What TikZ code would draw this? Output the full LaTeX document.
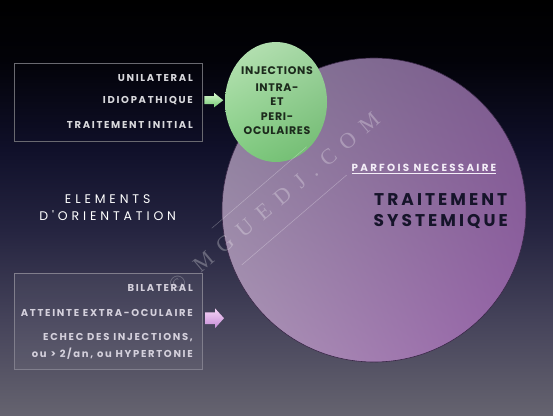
\documentclass[tikz,border=0pt]{standalone}
\usepackage{fontspec}
\usetikzlibrary{shapes.geometric,shadings}
\newfontfamily\boxfont{Poppins}[LetterSpace=17]
\newfontfamily\parffont{Poppins}[LetterSpace=22]
\newfontfamily\orientfont{Poppins}[LetterSpace=31]
\newfontfamily\sysfont{Poppins}[LetterSpace=18]
\newfontfamily\injfont{Poppins}[LetterSpace=6]
\newfontfamily\wmfont{Liberation Serif}[LetterSpace=46]
\definecolor{bgA}{HTML}{65636F}
\definecolor{bgB}{HTML}{45435A}
\definecolor{bgC}{HTML}{252440}
\definecolor{bgD}{HTML}{10102A}
\definecolor{bgE}{HTML}{020208}
\definecolor{bgF}{HTML}{000000}
\pgfdeclareverticalshading{bgshade}{100bp}{color(0bp)=(bgA); color(25bp)=(bgA); color(36.45bp)=(bgB); color(47.29bp)=(bgC); color(56.93bp)=(bgD); color(67.77bp)=(bgE); color(75bp)=(bgF); color(100bp)=(bgF)}
\definecolor{boxtext}{HTML}{D8D8DC}
\definecolor{boxtextB}{HTML}{D4D0DC}
\definecolor{injtext}{HTML}{1C2A1C}
\definecolor{systext}{HTML}{16142A}
\definecolor{parftext}{HTML}{F4EEF8}
\definecolor{sysUL}{RGB}{134,122,150}
\definecolor{sysUR}{RGB}{122,88,140}
\definecolor{sysLL}{RGB}{174,152,184}
\definecolor{sysLR}{RGB}{150,98,168}
\definecolor{sysedge}{HTML}{3A2848}
\definecolor{injUL}{RGB}{188,228,184}
\definecolor{injUR}{RGB}{160,212,160}
\definecolor{injLL}{RGB}{128,204,128}
\definecolor{injLR}{RGB}{110,184,110}
\definecolor{gaT}{RGB}{214,248,206}
\definecolor{gaB}{RGB}{116,200,116}
\definecolor{paT}{RGB}{246,212,246}
\definecolor{paB}{RGB}{196,140,214}
\definecolor{frameA}{RGB}{105,105,112}
\definecolor{frameB}{RGB}{128,126,140}
\tikzset{
  boxline/.style={font=\boxfont\bfseries\fontsize{10}{12}\selectfont, anchor=east, inner sep=0pt},
  injline/.style={font=\injfont\bfseries\fontsize{11}{12}\selectfont, text=injtext, inner sep=0pt},
  frame/.style={draw=#1, line width=0.6pt},
  wmline/.style={white, opacity=0.3, line width=0.5pt},
}
\begin{document}
\begin{tikzpicture}[x=1pt,y=-1pt]
\useasboundingbox (0,0) rectangle (553,415);
\fill[shading=bgshade] (0,0) rectangle (553,415);
% big circle
\node[circle, minimum size=304pt, inner sep=0pt, draw=sysedge, line width=0.6pt,
  upper left=sysUL, upper right=sysUR, lower left=sysLL, lower right=sysLR]
  (sys) at (374,210) {};
% green ellipse
\node[ellipse, minimum width=102pt, minimum height=120pt, inner sep=0pt,
  upper left=injUL, upper right=injUR, lower left=injLL, lower right=injLR]
  (inj) at (276,102) {};
\node[injline] (i1) at (277,71) {INJECTIONS};
\node[injline] (i2) at (277,87.5) {INTRA-};
\node[injline] (i3) at (277,102) {ET};
\node[injline] (i4) at (277,116.5) {PERI-};
\node[injline] (i5) at (277,131) {OCULAIRES};
% watermark
\coordinate (w1a) at (211.7,228.3);
\coordinate (w1b) at (306.7,146.7);
\coordinate (w2a) at (241.7,265);
\coordinate (w2b) at (346.7,175);
\draw[wmline] (w1a) -- (w1b);
\draw[wmline] (w2a) -- (w2b);
\node[rotate=40, text=white, opacity=0.28, font=\wmfont\fontsize{22}{22}\selectfont, inner sep=0pt] (wm) at (274,203) {© MGUEDJ.COM};
% top box
\node[frame=frameA, minimum width=188pt, minimum height=78pt, inner sep=0pt, anchor=north west] (topbox) at (13.5,62.7) {};
\node[boxline, text=boxtext] (u1) at (193,78.3) {UNILATERAL};
\node[boxline, text=boxtext] (u2) at (193,101) {IDIOPATHIQUE};
\node[boxline, text=boxtext] (u3) at (193,125.3) {TRAITEMENT INITIAL};
% bottom box
\node[frame=frameB, fill=white, fill opacity=0.05, minimum width=188pt, minimum height=96pt, inner sep=0pt, anchor=north west] (botbox) at (13.5,272.5) {};
\node[boxline, text=boxtextB] (b1) at (193,288.3) {BILATERAL};
\node[boxline, text=boxtextB] (b2) at (193,313.3) {ATTEINTE EXTRA-OCULAIRE};
\node[boxline, text=boxtextB] (b3) at (193,337.7) {ECHEC DES INJECTIONS,};
\node[boxline, text=boxtextB] (b4) at (193,353.3) {ou > 2/an, ou HYPERTONIE};
% arrows
\shade[top color=gaT, bottom color=gaB] (204.3,96.2) -- (214,96.2) -- (214,92.8) -- (223.3,100.2) -- (214,107.4) -- (214,104.2) -- (204.3,104.2) -- cycle;
\shade[top color=paT, bottom color=paB] (205,312.3) -- (215,312.3) -- (215,308.3) -- (224,318.2) -- (215,328.2) -- (215,324) -- (205,324) -- cycle;
% elements
\node[text=white, font=\orientfont\fontsize{12.5}{17}\selectfont, align=center, inner sep=0pt] (elem) at (107.7,207.5) {ELEMENTS\\D'ORIENTATION};
% systemic
\node[text=parftext, font=\parffont\bfseries\fontsize{10.3}{12}\selectfont, inner sep=0pt] (parf) at (424,169.3) {\underline{PARFOIS NECESSAIRE}};
\node[text=systext, font=\sysfont\bfseries\fontsize{17}{20.3}\selectfont, align=center, inner sep=0pt] (trait) at (440.7,211) {TRAITEMENT\\SYSTEMIQUE};
\end{tikzpicture}
\end{document}
